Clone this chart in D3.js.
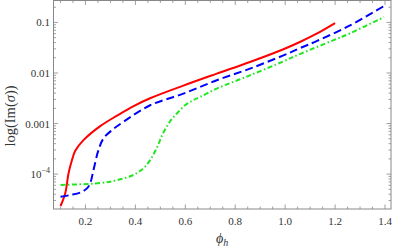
<!DOCTYPE html>
<html>
<head>
<meta charset="utf-8">
<script src="https://cdn.jsdelivr.net/npm/d3@7"></script>
<style>
  body { margin: 0; background: #fff; }
  text { font-family: "Liberation Serif", "Times New Roman", serif; fill: #333; }
</style>
</head>
<body>
<svg id="chart" width="395" height="249"></svg>
<script>
// curve data (phi_h, Im(sigma))
var redPhi  = [0.1, 0.119, 0.132, 0.146, 0.159, 0.192, 0.259, 0.326, 0.391, 0.459, 0.592, 0.726, 0.859, 0.993, 1.059, 1.128, 1.2];
var redIm   = [2.34e-5, 4.2e-5, 1.03e-4, 1.9e-4, 2.9e-4, 4.7e-4, 8.9e-4, 1.43e-3, 2.19e-3, 3.16e-3, 5.62e-3, 9.7e-3, 0.0165, 0.0295, 0.041, 0.0605, 0.097];

var bluePhi = [0.1, 0.139, 0.179, 0.206, 0.219, 0.232, 0.252, 0.272, 0.306, 0.352, 0.459, 0.592, 0.726, 0.859, 0.993, 1.059, 1.128, 1.26, 1.4];
var blueIm  = [3.57e-5, 3.85e-5, 4.3e-5, 5.22e-5, 6.6e-5, 1.2e-4, 2.98e-4, 5.07e-4, 7.4e-4, 1.08e-3, 2.3e-3, 3.9e-3, 7.2e-3, 0.0122, 0.0223, 0.0309, 0.0432, 0.0873, 0.217];

var greenPhi = [0.1, 0.259, 0.327, 0.391, 0.432, 0.459, 0.487, 0.511, 0.539, 0.567, 0.599, 0.631, 0.659, 0.726, 0.859, 0.993, 1.059, 1.192, 1.26, 1.396];
var greenIm  = [6.1e-5, 6.65e-5, 7.6e-5, 9.6e-5, 1.3e-4, 1.89e-4, 3.41e-4, 6.45e-4, 1.11e-3, 1.6e-3, 2.3e-3, 2.89e-3, 3.36e-3, 4.92e-3, 9.0e-3, 0.017, 0.0237, 0.0442, 0.061, 0.128];

var xTicks = [0.2, 0.4, 0.6, 0.8, 1.0, 1.2, 1.4];
var xTickLabels = ["0.2", "0.4", "0.6", "0.8", "1.0", "1.2", "1.4"];
var yTicks = [0.1, 0.01, 0.001, 1e-4];
var yTickLabels = ["0.1", "0.01", "0.001", "10^-4"];

var svg = d3.select("#chart");
var pLeft = 53.5, pRight = 391, pTop = 0.5, pBottom = 209;

var x = d3.scaleLinear().domain([0.0719, 1.424]).range([pLeft, pRight]);
var y = d3.scaleLog().domain([2.04e-5, 0.2716]).range([pBottom, pTop]);

// clip for the curves
svg.append("defs").append("clipPath").attr("id", "clip")
   .append("rect").attr("x", pLeft).attr("y", pTop).attr("width", pRight - pLeft).attr("height", pBottom - pTop);

// minor ticks
var xMinor = d3.range(0.1, 1.42, 0.05).filter(function(d){ return Math.abs(Math.round(d * 5) - d * 5) > 1e-6; });
var yMinor = [];
[1e-5, 1e-4, 1e-3, 1e-2, 0.1].forEach(function(dec){
      for (var k = 2; k <= 9; k++) {
            var v = dec * k;
            if (v > y.domain()[0] && v < y.domain()[1]) yMinor.push(v);
      }
});

var tickColor = "#888";
var ticks = svg.append("g").attr("stroke", tickColor).attr("stroke-width", 0.8);

xTicks.forEach(function(d){
      ticks.append("line").attr("x1", x(d)).attr("x2", x(d)).attr("y1", pBottom).attr("y2", pBottom - 4.5);
      ticks.append("line").attr("x1", x(d)).attr("x2", x(d)).attr("y1", pTop).attr("y2", pTop + 4.5);
});
xMinor.forEach(function(d){
      ticks.append("line").attr("x1", x(d)).attr("x2", x(d)).attr("y1", pBottom).attr("y2", pBottom - 2.5);
      ticks.append("line").attr("x1", x(d)).attr("x2", x(d)).attr("y1", pTop).attr("y2", pTop + 2.5);
});
yTicks.forEach(function(d){
      ticks.append("line").attr("x1", pLeft).attr("x2", pLeft + 4.5).attr("y1", y(d)).attr("y2", y(d));
      ticks.append("line").attr("x1", pRight).attr("x2", pRight - 4.5).attr("y1", y(d)).attr("y2", y(d));
});
yMinor.forEach(function(d){
      ticks.append("line").attr("x1", pLeft).attr("x2", pLeft + 2.5).attr("y1", y(d)).attr("y2", y(d));
      ticks.append("line").attr("x1", pRight).attr("x2", pRight - 2.5).attr("y1", y(d)).attr("y2", y(d));
});

// frame
svg.append("rect")
   .attr("x", pLeft).attr("y", pTop).attr("width", pRight - pLeft).attr("height", pBottom - pTop)
   .attr("fill", "none").attr("stroke", tickColor).attr("stroke-width", 1);

// tick labels
xTicks.forEach(function(d, i){
      svg.append("text").attr("x", x(d)).attr("y", 224.5)
         .attr("text-anchor", "middle").attr("font-size", 11)
         .text(xTickLabels[i]);
});
yTicks.forEach(function(d, i){
      var t = svg.append("text").attr("x", 50).attr("y", y(d) + 4)
         .attr("text-anchor", "end").attr("font-size", 11);
      var lab = yTickLabels[i];
      if (lab.indexOf("^") > 0) {
            var parts = lab.split("^");
            t.append("tspan").text(parts[0]);
            t.append("tspan").attr("dy", -5).attr("font-size", 8).text(parts[1].replace("-", "\u2212"));
      } else {
            t.text(lab);
      }
});

// axis titles
svg.append("text").attr("x", 222).attr("y", 243)
   .attr("text-anchor", "middle").attr("font-size", 14)
   .call(function(t){
         t.append("tspan").attr("font-style", "italic").text("\u03d5");
         t.append("tspan").attr("font-style", "italic").attr("font-size", 10).attr("dy", 3).text("h");
   });

svg.append("text").attr("transform", "translate(15,116) rotate(-90)")
   .attr("text-anchor", "middle").attr("font-size", 14.5)
   .call(function(t){
         t.append("tspan").text("log(Im(");
         t.append("tspan").attr("font-style", "italic").text("\u03c3");
         t.append("tspan").text("))");
   });

// curves
var line = d3.line()
      .x(function(d){ return x(d[0]); })
      .y(function(d){ return y(d[1]); })
      .curve(d3.curveCatmullRom.alpha(0.5));

var series = [
      {phi: redPhi, im: redIm, color: "#ff0000", dash: null},
      {phi: bluePhi, im: blueIm, color: "#0000ff", dash: "8,4"},
      {phi: greenPhi, im: greenIm, color: "#22e622", dash: "5,2.5,1.5,2.5"}
];

var curves = svg.append("g").attr("clip-path", "url(#clip)");
series.forEach(function(s){
      var pts = s.phi.map(function(p, i){ return [p, s.im[i]]; });
      curves.append("path").datum(pts)
            .attr("d", line)
            .attr("fill", "none")
            .attr("stroke", s.color)
            .attr("stroke-width", 2)
            .attr("stroke-dasharray", s.dash);
});
</script>
</body>
</html>
